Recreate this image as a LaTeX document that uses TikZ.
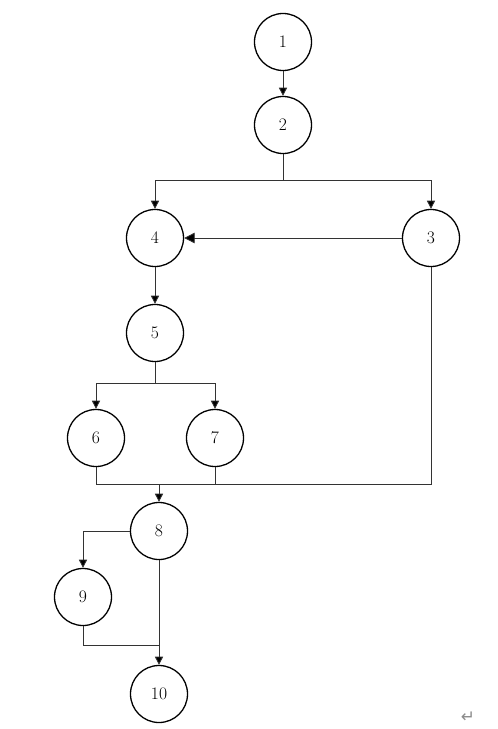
\documentclass[tikz,border=0pt]{standalone}
\usepackage{fontspec}
\newfontfamily\symfont{DejaVu Sans}
\usetikzlibrary{arrows.meta}
\tikzset{
  state/.style={circle, draw, line width=1.1pt, minimum size=1.71cm, inner sep=0pt,
    font=\fontsize{15}{17}\selectfont},
  edge/.style={line width=0.7pt, draw=black!80},
  tip/.style={-{Triangle[length=7pt,width=7pt,fill=black]}},
  bigtip/.style={-{Triangle[length=9pt,width=9pt,fill=black]}}
}
\begin{document}
\begin{tikzpicture}[x=0.03cm, y=-0.03cm]
    \useasboundingbox (0,0) rectangle (497,729);

    % Nodes
    \node[state] (n1) at (283,42) {1};
    \node[state] (n2) at (283,125) {2};
    \node[state] (n4) at (155,238) {4};
    \node[state] (n3) at (431,238) {3};
    \node[state] (n5) at (155,333) {5};
    \node[state] (n6) at (96,438) {6};
    \node[state] (n7) at (215,438) {7};
    \node[state] (n8) at (159,531) {8};
    \node[state] (n9) at (83,597) {9};
    \node[state] (n10) at (159,694) {10};

    % Branch points
    \coordinate (b2) at (283,180);
    \coordinate (b5) at (155,383);
    \coordinate (m8) at (159,484);
    \coordinate (m10) at (159,645);

    % Edges
    \draw[edge, tip] (n1) -- (n2);
    \draw[edge] (n2) -- (b2);
    \draw[edge, tip] (b2) -| (n4);
    \draw[edge, tip] (b2) -| (n3);
    \draw[edge, bigtip] (n3) -- (n4);
    \draw[edge, tip] (n4) -- (n5);

    % 5 -> 6, 7
    \draw[edge] (n5) -- (b5);
    \draw[edge, tip] (b5) -| (n6);
    \draw[edge, tip] (b5) -| (n7);

    % 6, 7, 3 -> 8
    \draw[edge] (n6) |- (m8);
    \draw[edge] (n7) |- (m8);
    \draw[edge] (n3) |- (m8);
    \draw[edge, tip] (m8) -- (n8);

    % 8 -> 9, 10
    \draw[edge, tip] (n8) -| (n9);
    \draw[edge, tip] (n8) -- (n10);
    \draw[edge] (n9) |- (m10);

    % Paragraph mark
    \node[text=black!45, font=\symfont\Large] (ret) at (468,717) {↵};
\end{tikzpicture}
\end{document}
